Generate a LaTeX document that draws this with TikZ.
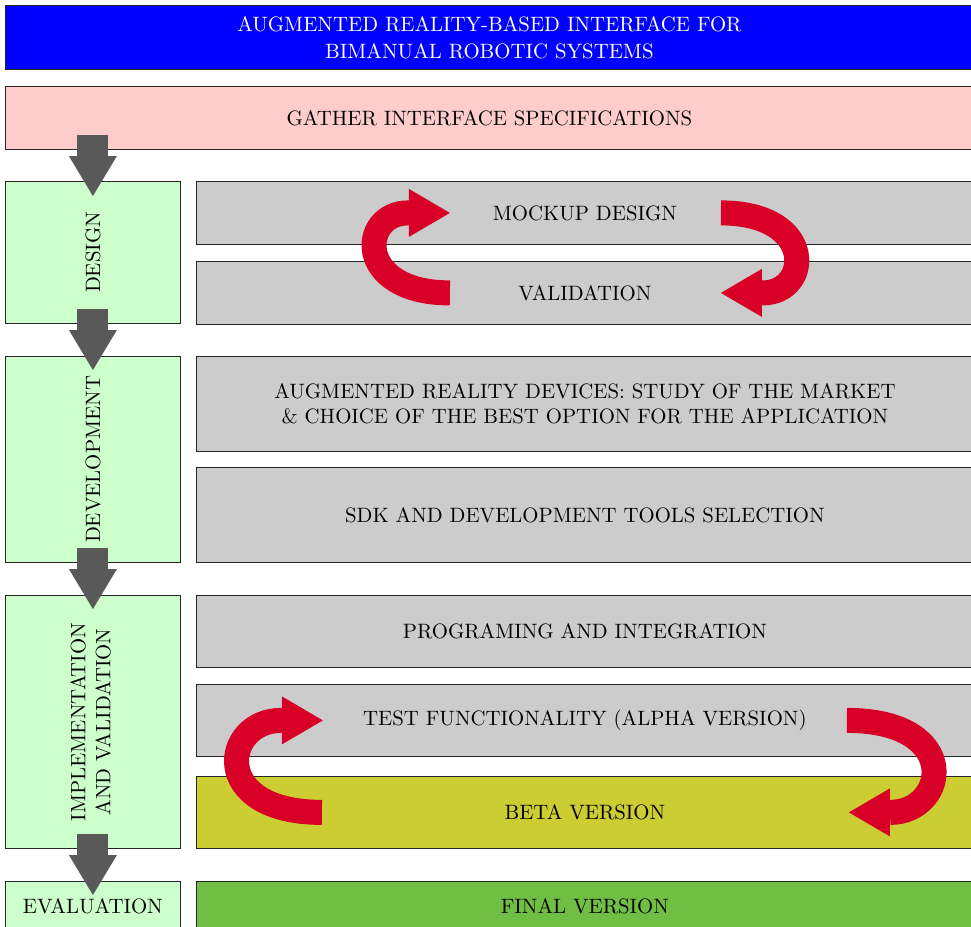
\documentclass[tikz,border=0pt]{standalone}
\usepackage{tikz}
\usetikzlibrary{arrows.meta}
\usetikzlibrary{calc}
\definecolor{titleblue}{RGB}{0,0,255}
\definecolor{specpink}{RGB}{255,204,204}
\definecolor{phasegreen}{RGB}{204,255,204}
\definecolor{taskgray}{RGB}{204,204,204}
\definecolor{betaolive}{RGB}{204,204,51}
\definecolor{finalgreen}{RGB}{112,191,68}
\definecolor{iterred}{RGB}{216,0,39}
\definecolor{stagegray}{RGB}{89,89,89}
\tikzstyle{box}=[draw=black!85, line width=0.4pt, anchor=north west, inner sep=0pt, align=center,
    font=\fontsize{10.4pt}{12.5pt}\selectfont]
\tikzstyle{banner}=[box, minimum width=484pt]
\tikzstyle{phase}=[box, fill=phasegreen, minimum width=87.5pt]
\tikzstyle{task}=[box, fill=taskgray, minimum width=388.5pt]
\tikzstyle{stage arrow}=[stagegray, line width=15.5pt, -{Triangle[width=24pt, length=20pt, line width=0pt]}]
\tikzstyle{iter arrow}=[iterred, line width=12.5pt, -{Triangle[width=24pt, length=20.5pt, line width=0pt]}]

\begin{document}
\begin{tikzpicture}[x=0.5pt, y=-0.5pt]
    \useasboundingbox (0,0) rectangle (971,927);
    \clip (0,0) rectangle (971,927);
    % header
    \node[banner, fill=titleblue, text=white, minimum height=32pt] (title) at (5,5)
        {AUGMENTED REALITY-BASED INTERFACE FOR\\[1pt]BIMANUAL ROBOTIC SYSTEMS};
    \node[banner, fill=specpink, minimum height=31.5pt] (spec) at (5,86) {GATHER INTERFACE SPECIFICATIONS};
    % phases
    \node[phase, minimum height=71pt]    (dsg)  at (5,181) {\rotatebox{90}{DESIGN}};
    \node[phase, minimum height=103pt]   (dev)  at (5,356) {\rotatebox{90}{DEVELOPMENT}};
    \node[phase, minimum height=126.5pt] (impl) at (5,595)
        {\rotatebox{90}{\begin{tabular}{@{}c@{}}IMPLEMENTATION\\AND VALIDATION\end{tabular}}};
    \node[phase, minimum height=24.5pt]  (eval) at (5,881) {EVALUATION};
    % tasks
    \node[task, minimum height=31.5pt] (mock)  at (196,181) {MOCKUP DESIGN};
    \node[task, minimum height=31.5pt] (valid) at (196,261) {VALIDATION};
    \node[task, minimum height=47.5pt] (ardev) at (196,356)
        {AUGMENTED REALITY DEVICES: STUDY OF THE MARKET\\\& CHOICE OF THE BEST OPTION FOR THE APPLICATION};
    \node[task, minimum height=47.5pt] (sdk)   at (196,467) {SDK AND DEVELOPMENT TOOLS SELECTION};
    \node[task, minimum height=36pt]   (prog)  at (196,595) {PROGRAMING AND INTEGRATION};
    \node[task, minimum height=36pt]   (test)  at (196,684) {TEST FUNCTIONALITY (ALPHA VERSION)};
    \node[task, fill=betaolive, minimum height=36pt]   (beta)  at (196,776) {BETA VERSION};
    \node[task, fill=finalgreen, minimum height=24.5pt] (final) at (196,881) {FINAL VERSION};
    % flow between phases
    \draw[stage arrow] ($(spec.south -| dsg.north)+(0,-15)$) -- ($(dsg.north)+(0,15)$);
    \draw[stage arrow] ($(dsg.south)+(0,-15)$)  -- ($(dev.north)+(0,14)$);
    \draw[stage arrow] ($(dev.south)+(0,-15)$)  -- ($(impl.north)+(0,14)$);
    \draw[stage arrow] ($(impl.south)+(0,-15)$) -- ($(eval.north)+(0,14)$);
    % design <-> validation loop
    \draw[iter arrow] ($(valid.center)+(-135,0)$) .. controls +(-96,0) and +(-48,0)
        .. ($(mock.center)+(-177,0)$) -- ($(mock.center)+(-135,0)$);
    \draw[iter arrow] ($(mock.center)+(136,0)$) .. controls +(96,0) and +(48,0)
        .. ($(valid.center)+(178,0)$) -- ($(valid.center)+(136,0)$);
    % alpha <-> beta loop
    \draw[iter arrow] ($(beta.center)+(-263,0)$) .. controls +(-114,0) and +(-58,0)
        .. ($(test.center)+(-304,0)$) -- ($(test.center)+(-262,0)$);
    \draw[iter arrow] ($(test.center)+(262,0)$) .. controls +(116,0) and +(58,0)
        .. ($(beta.center)+(305,0)$) -- ($(beta.center)+(264,0)$);
\end{tikzpicture}
\end{document}
